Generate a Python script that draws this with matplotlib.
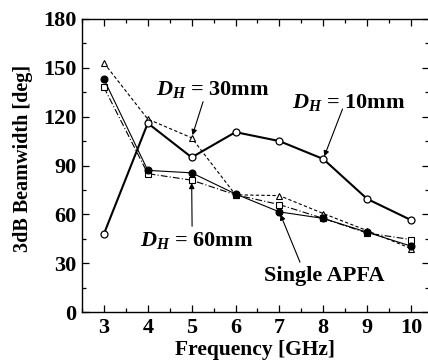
import matplotlib
matplotlib.use("Agg")
import matplotlib.pyplot as plt
from matplotlib.ticker import MultipleLocator

plt.rcParams['font.family'] = ['Liberation Serif', 'DejaVu Serif']
plt.rcParams['font.weight'] = 'bold'
plt.rcParams['mathtext.fontset'] = 'custom'
plt.rcParams['mathtext.it'] = 'Liberation Serif:italic:bold'
plt.rcParams['mathtext.rm'] = 'Liberation Serif:bold'
plt.rcParams['mathtext.bf'] = 'Liberation Serif:bold'

freq = [3, 4, 5, 6, 7, 8, 9, 10]
single_apfa = [143, 87, 85.5, 72.5, 61.5, 57.5, 49, 40.5]
dh10 = [48, 116, 95, 110.5, 105, 94, 69.5, 56.5]
dh30 = [153, 118.5, 107, 72, 71.5, 60.5, 50, 39]
dh60 = [138, 85, 81, 72, 66, 57.5, 48.5, 44.5]

xticks = [3, 4, 5, 6, 7, 8, 9, 10]
yticks = [0, 30, 60, 90, 120, 150, 180]

fig = plt.figure(figsize=(4.28, 3.63), dpi=100)
W, H = 428, 363
left, right, top, bottom = 82, 428.5, 19, 312
ax = fig.add_axes([left / W, 1 - bottom / H, (right - left) / W, (bottom - top) / H])

ax.plot(freq, dh30, linestyle=(0, (3, 2)), color='black', lw=0.8,
        marker='^', markersize=4.5, markerfacecolor='white', markeredgewidth=0.8, zorder=3)
ax.plot(freq, dh60, linestyle=(0, (6, 2, 1, 2)), color='black', lw=0.8,
        marker='s', markersize=4, markerfacecolor='white', markeredgewidth=0.8, zorder=3)
ax.plot(freq, single_apfa, linestyle='-', color='black', lw=0.8,
        marker='o', markersize=5, markerfacecolor='black', markeredgewidth=0.8, zorder=4)
ax.plot(freq, dh10, linestyle='-', color='black', lw=1.5,
        marker='o', markersize=5, markerfacecolor='white', markeredgewidth=0.9, zorder=5)

ax.set_xlim(2.5, 10.4)
ax.set_ylim(0, 180)
ax.set_xticks(xticks)
ax.set_yticks(yticks)
ax.xaxis.set_minor_locator(MultipleLocator(0.5))
ax.yaxis.set_minor_locator(MultipleLocator(15))
ax.tick_params(which='both', direction='in', top=True, right=True, labelsize=16, width=0.9)
ax.tick_params(which='major', length=5)
ax.tick_params(which='minor', length=3)
ax.tick_params(axis='x', pad=4)
ax.tick_params(axis='y', pad=4)
for lab in ax.get_xticklabels() + ax.get_yticklabels():
    lab.set_fontweight('bold')
for s in ax.spines.values():
    s.set_linewidth(1.0)

ax.set_xlabel('Frequency [GHz]', fontsize=15.5, fontweight='bold', labelpad=2)
ax.set_ylabel('3dB Beamwidth [deg]', fontsize=14.5, fontweight='bold')
ax.yaxis.set_label_coords(-0.141, 0.525)

arrow = dict(arrowstyle='-|>', color='black', lw=0.8, mutation_scale=8, shrinkA=0, shrinkB=2)
tkw = dict(fontsize=16, fontweight='bold', ha='center', va='center')

ax.text(5.49, 136.5, r'$D_H$ = 30mm', **tkw)
ax.annotate('', xy=(5, dh30[2]), xytext=(5.26, 129.2), arrowprops=arrow)
ax.text(8.59, 128.5, r'$D_H$ = 10mm', **tkw)
ax.annotate('', xy=(8, dh10[5]), xytext=(8.44, 124.7), arrowprops=arrow)
ax.text(5.12, 44, r'$D_H$ = 60mm', **tkw)
ax.annotate('', xy=(5, dh60[2]), xytext=(5.01, 52.7), arrowprops=arrow)
ax.text(8.02, 22, 'Single APFA', **tkw)
ax.annotate('', xy=(7, single_apfa[4]), xytext=(7.47, 30.6), arrowprops=arrow)

fig.savefig('out.png', dpi=100)
